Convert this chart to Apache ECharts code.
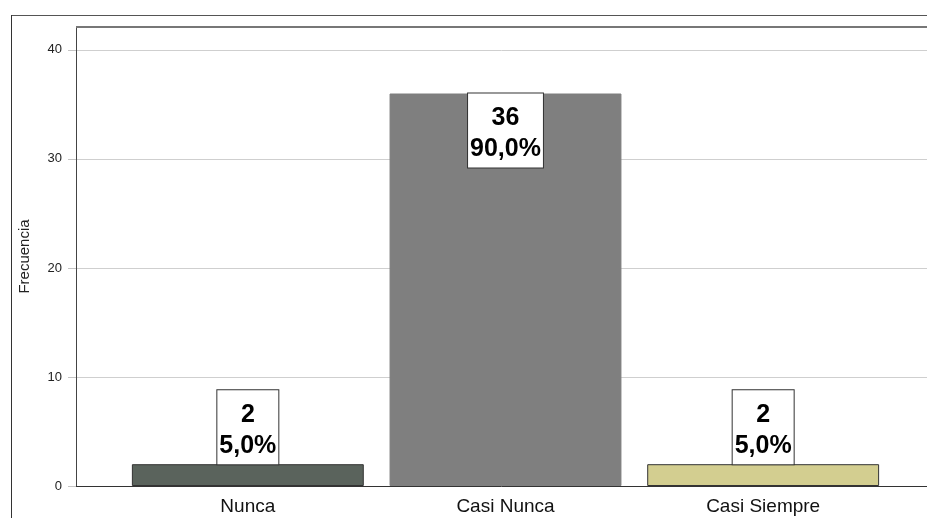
<!DOCTYPE html>
<html>
<head>
<meta charset="utf-8">
<script src="https://cdn.jsdelivr.net/npm/echarts@6/dist/echarts.min.js"></script>
<style>html,body{margin:0;padding:0;background:#fff}#c{width:927px;height:518px}</style>
</head>
<body>
<div id="c"></div>
<script>
const categories = ['Nunca', 'Casi Nunca', 'Casi Siempre'];
const counts = [2, 36, 2];
const percents = ['5,0%', '90,0%', '5,0%'];
const yTicks = [0, 10, 20, 30, 40];
const yAxisTitle = 'Frecuencia';

const barColors = ['#5a635c', '#7f7f7f', '#d3ce90'];
const barBorders = ['#333333', '#7f7f7f', '#333333'];
const FONT = '"Liberation Sans", Arial, sans-serif';
const YMAX = 42.1;

const chart = echarts.init(document.getElementById('c'), null, {renderer: 'canvas'});
const option = {
  animation: false,
  backgroundColor: '#ffffff',
  grid: [
    {left: 119, right: 35, top: 27, bottom: 32},
    {left: 76, right: 0, top: 27, bottom: 32}
  ],
  xAxis: [
    {
      type: 'category', gridIndex: 0, data: categories,
      axisLine: {show: false}, axisTick: {show: false},
      axisLabel: {fontFamily: FONT, fontSize: 19, color: '#111', margin: 11}
    },
    {
      type: 'value', gridIndex: 1, min: 0, max: 1,
      axisLine: {show: true, lineStyle: {color: '#333333', width: 1}},
      axisTick: {show: false}, axisLabel: {show: false}, splitLine: {show: false}
    }
  ],
  yAxis: [
    {type: 'value', gridIndex: 0, min: 0, max: YMAX, show: false, splitLine: {show: false}},
    {
      type: 'value', gridIndex: 1, min: 0, max: YMAX, interval: 10,
      name: yAxisTitle, nameLocation: 'middle', nameGap: 44,
      nameTextStyle: {fontFamily: FONT, fontSize: 15, color: '#222'},
      axisLine: {show: true, lineStyle: {color: '#444', width: 1}},
      axisTick: {show: true, length: 8, customValues: yTicks, lineStyle: {color: '#c4c4c4'}},
      axisLabel: {fontFamily: FONT, fontSize: 13, color: '#222', margin: 14, customValues: yTicks,
                  padding: [4, 0, 0, 0]},
      splitLine: {show: true, lineStyle: {color: '#cfcfcf', width: 1}}
    }
  ],
  graphic: [
    {type: 'line', shape: {x1: 11, y1: 15.5, x2: 927, y2: 15.5}, style: {stroke: '#555', lineWidth: 1}, z: 100},
    {type: 'line', shape: {x1: 11.5, y1: 15, x2: 11.5, y2: 518}, style: {stroke: '#333', lineWidth: 1}, z: 100},
    {type: 'line', shape: {x1: 76, y1: 27, x2: 927, y2: 27}, style: {stroke: '#777', lineWidth: 2}, z: 100}
  ],
  series: [{
    type: 'bar', xAxisIndex: 0, yAxisIndex: 0, barWidth: '90%',
    data: counts.map((v, i) => ({
      value: v,
      itemStyle: {color: barColors[i], borderColor: barBorders[i], borderWidth: 1},
      label: {position: v > 20 ? 'insideTop' : 'top'}
    })),
    label: {
      show: true, distance: 0,
      formatter: p => counts[p.dataIndex] + '\n' + percents[p.dataIndex],
      fontFamily: FONT, fontSize: 25, fontWeight: 'bold', color: '#000',
      lineHeight: 31, backgroundColor: '#fff', borderColor: '#333', borderWidth: 1,
      padding: [9, 2, 3, 2], align: 'center'
    },
    z: 3
  }]
};
chart.setOption(option);
</script>
</body>
</html>
